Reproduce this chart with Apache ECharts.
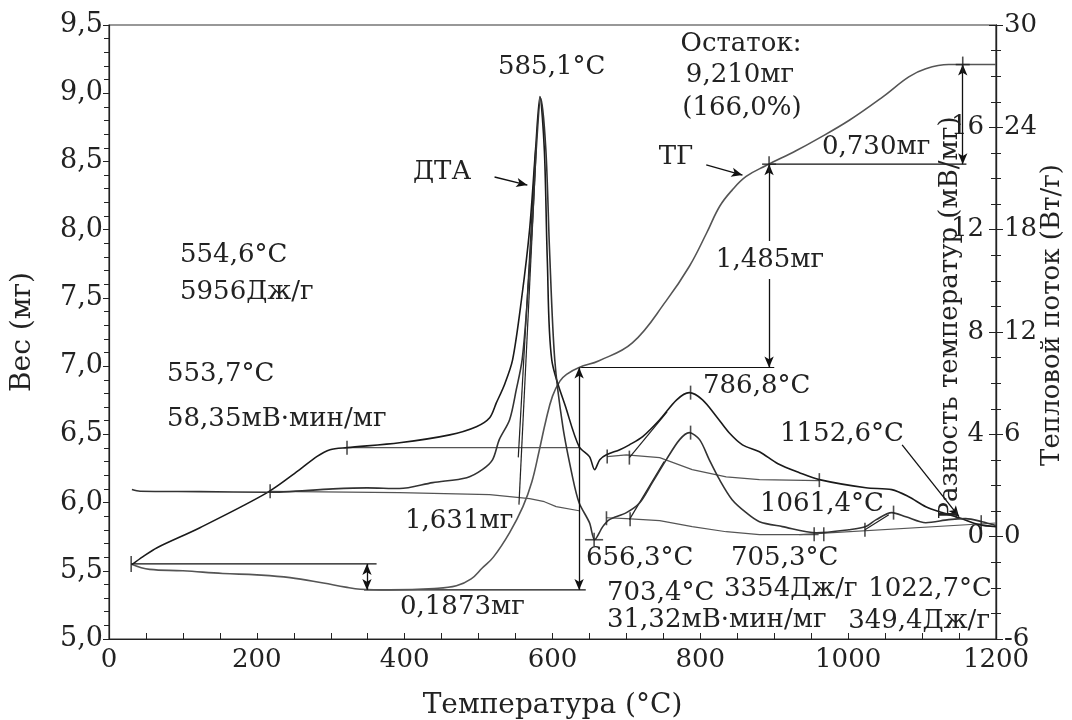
<!DOCTYPE html>
<html><head><meta charset="utf-8">
<script src="https://cdn.jsdelivr.net/npm/echarts@6/dist/echarts.min.js"></script>
<style>html,body{margin:0;padding:0;background:#fff;overflow:hidden}#c{width:1072px;height:720px}</style>
</head><body><div id="c"></div>
<script>
// ---- data (temperature °C, values) ----
const tgTemp = [30,55,100,154,200,245,290,320,340,380,440,470,490,505,520,542,560,572,582,591,600,610,619,636,663,708,754,785,808,826,843,862,889,930,957,1001,1046,1082,1105,1136,1170,1200];
const tgMass = [5.55,5.51,5.50,5.48,5.47,5.45,5.41,5.38,5.365,5.36,5.37,5.39,5.44,5.52,5.60,5.78,5.97,6.15,6.38,6.60,6.78,6.89,6.94,6.99,7.04,7.17,7.48,7.73,7.97,8.17,8.29,8.39,8.47,8.58,8.66,8.80,8.97,9.12,9.18,9.21,9.21,9.21];

const dtaTemp = [31,46,65,123,214,258,281,299,322,393,461,497,515,524,535,546,558,569,577,583,589,593,599,619,636,650,657,664,673,691,704,722,745,768,785,803,822,839,857,880,905,934,961,1024,1059,1082,1105,1127,1150,1177,1200];
const dtaVal  = [-1.09,-0.78,-0.43,0.35,1.72,2.62,3.13,3.40,3.48,3.67,3.98,4.30,4.65,5.23,5.94,6.91,9.26,12.0,15.1,17.2,15.1,10.8,6.91,4.96,3.52,3.13,2.62,3.01,3.20,3.40,3.59,3.91,4.57,5.35,5.63,5.35,4.69,4.06,3.59,3.32,2.85,2.50,2.23,1.91,1.84,1.56,1.17,0.94,0.74,0.47,0.39];

const dscTemp = [31,42,123,214,303,349,393,438,484,505,519,528,542,551,559,566,573,578,584,591,596,603,614,627,636,650,657,668,677,700,718,735,754,772,785,799,812,826,843,862,880,911,957,1001,1024,1038,1059,1078,1105,1136,1159,1181,1200];
const dscVal  = [2.76,2.66,2.64,2.60,2.80,2.86,2.82,3.17,3.46,3.93,4.52,5.69,6.86,8.62,10.4,13.9,18.6,22.7,25.7,22.7,16.8,10.4,6.45,3.52,1.99,0.82,-0.18,0.59,1.0,1.41,1.99,3.17,4.52,5.69,6.10,5.69,4.52,3.34,2.17,1.41,0.88,0.59,0.23,0.41,0.59,1.0,1.41,1.17,0.82,1.0,1.06,0.88,0.65];

// construction lines (data coordinates)
const dtaBase1 = [[322,3.48],[636,3.48]];
const dtaTan1  = [[577,15.1],[553.7,3.1]];
const dtaBase2 = [[674,3.13],[700,3.20],[745,3.09],[789,2.62],[835,2.34],[880,2.23],[961,2.19]];
const dtaTan2  = [[704,3.09],[755,4.88]];
const dscBase1 = [[218,2.66],[393,2.58],[515,2.46],[569,2.23],[589,2.05],[605,1.76],[636,1.52]];
const dscTan1  = [[578,22.7],[554.6,1.88]];
const dscBase2 = [[673,1.11],[700,1.06],[745,0.94],[789,0.59],[835,0.29],[880,0.12],[960,0.12]];
const dscTan2  = [[704,1.0],[751,4.4]];
const dscBase3 = [[934,0.12],[1200,0.8]];
const dscTan3  = [[1022.7,0.41],[1055,1.29]];
const tgRefLines = [[[30,5.55],[362,5.55]],[[345,5.36],[645,5.36]],[[636,6.99],[900,6.99]],[[893,8.48],[1160,8.48]]];
const tgArrows = [[[349,5.55],[349,5.36]],[[636,5.36],[636,6.99]],[[893,6.99],[893,8.48]],[[1155,8.48],[1155,9.21]]];
const tgPointers = [[[521.6,8.386],[566,8.327]],[[808,8.474],[857,8.40]]];
const dtaPointers = [[[1073,3.59],[1150,0.78]]];
const dtaTicks = [[322,3.48],[674,3.13],[704,3.09],[786.8,5.63],[961,2.21]];
const dscTicks = [[218,2.66],[673,1.08],[705,1.02],[786.8,6.1],[954,0.14],[967,0.14],[1022.7,0.41],[1061.4,1.41],[1180,0.85],[656.3,-0.18]];
const dscCross = [[656.3,-0.18]];
const tgTicks = [[30,5.55],[893,8.48],[1155,9.21]];
const tgCross = [[893,8.48],[1155,9.21]];

const xTicks = [0,200,400,600,800,1000,1200];
const massTicks = [5.0,5.5,6.0,6.5,7.0,7.5,8.0,8.5,9.0,9.5];
const dtaTickLabels = [0,4,8,12,16];
const dscTickLabels = [-6,0,6,12,18,24,30];

const annotations = [
  ['585,1°C',498,67,'left'],
  ['Остаток:',741,44,'center'],
  ['9,210мг',740,75,'center'],
  ['(166,0%)',742,108,'center'],
  ['ДТА',442,172,'center'],
  ['ТГ',676,157,'center'],
  ['554,6°C',180,255,'left'],
  ['5956Дж/г',180,292,'left'],
  ['553,7°C',167,374,'left'],
  ['58,35мВ·мин/мг',167,419,'left'],
  ['0,730мг',822,147,'left'],
  ['786,8°C',703,386,'left'],
  ['1152,6°C',780,434,'left'],
  ['1061,4°C',760,504,'left'],
  ['1,631мг',405,521,'left'],
  ['656,3°C',586,558,'left'],
  ['705,3°C',731,558,'left'],
  ['703,4°C',607,593,'left'],
  ['3354Дж/г',724,589,'left'],
  ['1022,7°C',992,589,'right'],
  ['0,1873мг',400,607,'left'],
  ['31,32мВ·мин/мг',607,620,'left'],
  ['349,4Дж/г',990,621,'right']
];

// ---- chart ----
const F = '"DejaVu Serif", serif';
const INK = '#222';
const zip = (xs, ys) => xs.map((x, i) => [x, ys[i]]);
const chart = echarts.init(document.getElementById('c'));

const thin = (data, yi, color) => ({type:'line', yAxisIndex:yi, data, symbol:'none', silent:true,
  lineStyle:{color:color||'#555', width:1.2}, z:3});
const ticks = (data, yi, size) => ({type:'scatter', yAxisIndex:yi, data, symbol:'rect', symbolSize:size,
  itemStyle:{color:INK}, silent:true, z:5});

const commonY = {
  axisLine:{show:true, onZero:false, lineStyle:{color:INK, width:1.2}},
  splitLine:{show:false},
  axisLabel:{fontFamily:F, fontSize:26, color:INK, margin:6},
  nameTextStyle:{fontFamily:F, fontSize:26, color:INK}
};

chart.setOption({
  animation:false,
  backgroundColor:'#fff',
  grid:{left:109, right:76, top:25, bottom:81, show:true, borderColor:'#333', borderWidth:1.2,
    containLabel:false, outerBoundsMode:'none'},
  xAxis:{type:'value', min:0, max:1200, interval:200,
    axisLine:{onZero:false, lineStyle:{color:INK, width:1.2}},
    axisTick:{inside:true, length:6, lineStyle:{color:INK}},
    minorTick:{show:true, splitNumber:4, length:6, lineStyle:{color:INK}},
    splitLine:{show:false},
    axisLabel:{fontFamily:F, fontSize:26, color:INK, margin:8,
      formatter:v => xTicks.includes(v) ? String(v) : ''},
    name:'Температура (°C)', nameLocation:'middle', nameGap:53,
    nameTextStyle:{fontFamily:F, fontSize:28, color:INK}},
  yAxis:[
    Object.assign({}, commonY, {type:'value', position:'left', min:5, max:9.5, interval:0.5,
      axisTick:{length:6, lineStyle:{color:INK}},
      minorTick:{show:true, splitNumber:5, length:5, lineStyle:{color:INK}},
      axisLabel:Object.assign({}, commonY.axisLabel, {fontSize:27, formatter:v => massTicks.some(t=>Math.abs(t-v)<1e-6) ? v.toFixed(1).replace('.',',') : ''}),
      name:'Вес (мг)', nameLocation:'middle', nameRotate:90, nameGap:72,
      nameTextStyle:{fontFamily:F, fontSize:28, color:INK}}),
    Object.assign({}, commonY, {type:'value', position:'right', min:-4, max:20, interval:4,
      axisTick:{inside:true, length:7, lineStyle:{color:INK}},
      minorTick:{show:true, splitNumber:4, length:5, lineStyle:{color:INK}},
      axisLabel:Object.assign({}, commonY.axisLabel, {inside:true, margin:12,
        formatter:v => dtaTickLabels.includes(v) ? String(v) : ''})}),
    Object.assign({}, commonY, {type:'value', position:'right', min:-6, max:30, interval:6,
      axisTick:{length:7, lineStyle:{color:INK}},
      minorTick:{show:true, splitNumber:4, length:5, lineStyle:{color:INK}},
      axisLabel:Object.assign({}, commonY.axisLabel, {margin:8,
        formatter:v => dscTickLabels.includes(v) ? String(v) : ''})})
  ],
  series:[
    {name:'ТГ', type:'line', yAxisIndex:0, data:zip(tgTemp, tgMass), symbol:'none', smooth:0.4,
      lineStyle:{color:'#555', width:1.6}, z:4,
      markLine:{silent:true, symbol:['arrow','arrow'], symbolSize:[7,11], label:{show:false},
        lineStyle:{color:'#111', width:1.3, type:'solid'},
        data: tgArrows.map(a => [{coord:a[0]},{coord:a[1]}])
          .concat(tgPointers.map(a => [{coord:a[0], symbol:'none'},{coord:a[1]}]))}},
    {name:'ДТА', type:'line', yAxisIndex:1, data:zip(dtaTemp, dtaVal), symbol:'none', smooth:0.3,
      lineStyle:{color:'#1a1a1a', width:1.6}, z:4,
      markLine:{silent:true, symbol:['none','arrow'], symbolSize:[7,11], label:{show:false},
        lineStyle:{color:'#111', width:1.3, type:'solid'},
        data: dtaPointers.map(a => [{coord:a[0]},{coord:a[1]}])}},
    {name:'ДСК', type:'line', yAxisIndex:2, data:zip(dscTemp, dscVal), symbol:'none', smooth:0.3,
      lineStyle:{color:'#333', width:1.6}, z:4},
    thin(dtaBase1, 1), thin(dtaTan1, 1, '#222'), thin(dtaBase2, 1), thin(dtaTan2, 1, '#222'),
    thin(dscBase1, 2), thin(dscTan1, 2, '#222'), thin(dscBase2, 2), thin(dscTan2, 2, '#222'),
    thin(dscBase3, 2), thin(dscTan3, 2, '#222'),
    ...tgRefLines.map(l => thin(l, 0, '#111')),
    ticks(dtaTicks, 1, [1.6,14]), ticks(dscTicks, 2, [1.6,14]), ticks(dscCross, 2, [18,1.6]),
    ticks(tgTicks, 0, [1.6,16]), ticks(tgCross, 0, [14,1.6])
  ],
  graphic: annotations.map(([t, x, y, a]) => ({type:'text', x, y, z:100, silent:true,
    style:{text:t, font:'26px ' + F, fill:INK, align:a, verticalAlign:'middle'}}))
   .concat([
     {type:'text', x:770, y:260, z:100, silent:true,
       style:{text:'1,485мг', font:'26px ' + F, fill:INK, align:'center', verticalAlign:'middle',
         backgroundColor:'#fff', padding:[6,2]}},
     {type:'text', x:950, y:318, rotation:Math.PI/2, z:100, silent:true,
       style:{text:'Разность температур (мВ/мг)', font:'26px ' + F, fill:INK, align:'center', verticalAlign:'middle'}},
     {type:'text', x:1052, y:315, rotation:Math.PI/2, z:100, silent:true,
       style:{text:'Тепловой поток (Вт/г)', font:'26px ' + F, fill:INK, align:'center', verticalAlign:'middle'}}
   ])
});
</script></body></html>
